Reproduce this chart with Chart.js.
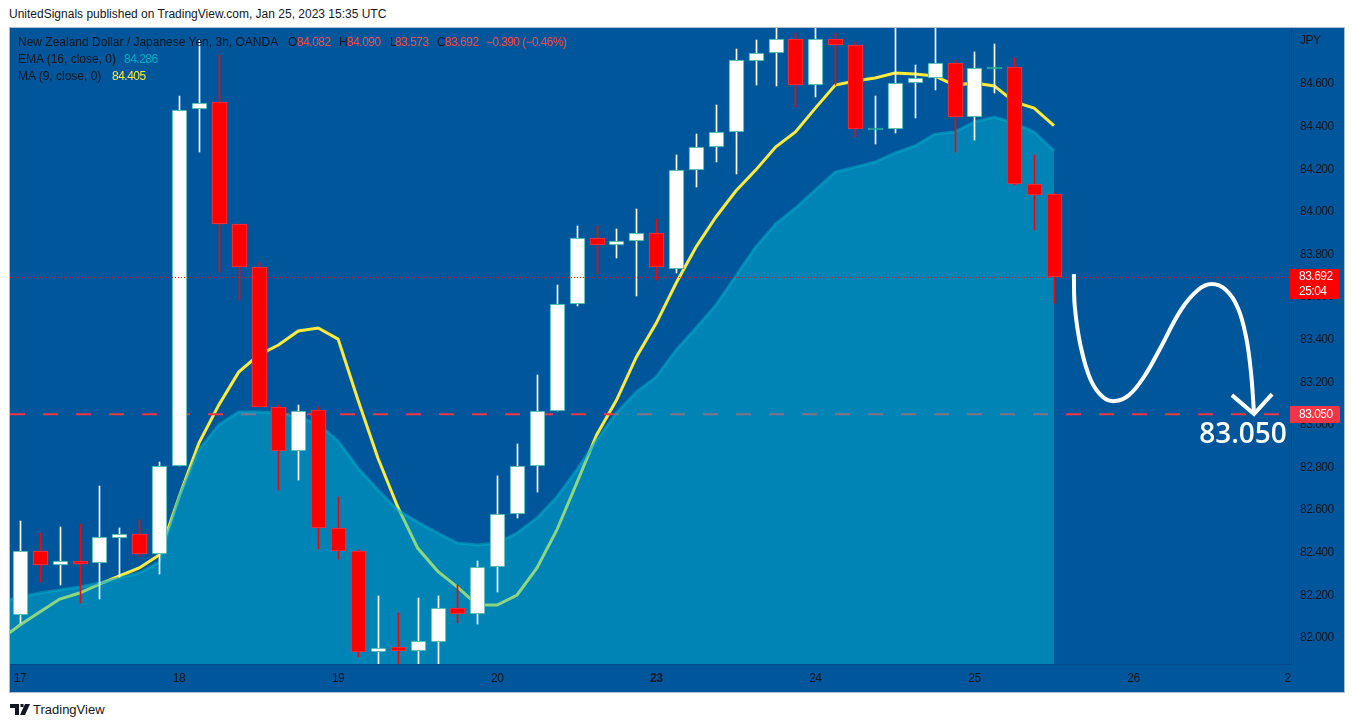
<!DOCTYPE html>
<html>
<head>
<meta charset="utf-8">
<title>NZDJPY 3h</title>
<script src="https://cdn.jsdelivr.net/npm/chart.js@4/dist/chart.umd.min.js"></script>
<style>
  html, body { margin: 0; padding: 0; background: #fff; width: 1354px; height: 727px; overflow: hidden; }
  body { font-family: "Liberation Sans", sans-serif; font-size: 12px; color: #131722; position: relative; }
  #head { position: absolute; left: 9px; top: 7px; white-space: nowrap; }
  #panel { position: absolute; left: 9px; top: 27px; width: 1334px; height: 664px; border: 1px solid #a9bfd6; background: #00569b; }
  #panel canvas { display: block; }
  .leg { position: absolute; white-space: nowrap; }
  .num { letter-spacing: -0.5px; }
  .red { color: #ff4a4a; }
  #foot { position: absolute; left: 10px; top: 701px; height: 16px; }
  #foot svg { position: absolute; left: 0; top: 3px; }
  #foot span { position: absolute; left: 23px; top: 1px; font-size: 13px; white-space: nowrap; }
</style>
</head>
<body>
<div id="head">UnitedSignals published on TradingView.com, Jan 25, 2023 15:35 UTC</div>
<div id="panel"><canvas id="chart" width="1334" height="664"></canvas></div>
<div class="leg" style="top:35px;left:18px">New Zealand Dollar / Japanese Yen, 3h, OANDA</div>
<div class="leg" style="top:35px;left:288px">O</div><div class="leg num red" style="top:35px;left:297px">84.082</div>
<div class="leg" style="top:35px;left:339px">H</div><div class="leg num red" style="top:35px;left:347px">84.090</div>
<div class="leg" style="top:35px;left:390px">L</div><div class="leg num red" style="top:35px;left:395px">83.573</div>
<div class="leg" style="top:35px;left:437px">C</div><div class="leg num red" style="top:35px;left:445px">83.692</div>
<div class="leg num red" style="top:35px;left:486px;letter-spacing:-0.6px">&minus;0.390 (&minus;0.46%)</div>
<div class="leg" style="top:52px;left:18px">EMA (16, close, 0)</div><div class="leg num" style="top:52px;left:124px;color:#00acc1">84.286</div>
<div class="leg" style="top:69px;left:18px">MA (9, close, 0)</div><div class="leg num" style="top:69px;left:112px;color:#ffeb3b">84.405</div>
<div id="foot">
  <svg width="20" height="11" viewBox="0 0 20 11"><path fill="#131722" d="M0 0h9v11H5V4H0zM10.5 0h3v3h-3zM15 0h5l-5 11h-5z"/></svg>
  <span>TradingView</span>
</div>
<script>
// 3h candles, one per index
const opens = [82.108,82.408,82.343,82.361,82.352,82.469,82.488,82.394,82.807,84.483,84.516,83.943,83.741,83.084,82.878,83.070,82.516,82.408,81.934,81.958,81.939,81.981,82.141,82.113,82.333,82.582,82.807,83.065,83.568,83.877,83.844,83.863,83.901,83.732,84.196,84.304,84.375,84.708,84.745,84.811,84.595,84.811,84.783,84.385,84.389,84.605,84.628,84.699,84.445,84.671,84.680,84.131,84.082];
const closes = [82.408,82.343,82.361,82.347,82.474,82.488,82.394,82.807,84.478,84.511,83.943,83.741,83.084,82.878,83.065,82.516,82.408,81.934,81.953,81.939,81.986,82.141,82.113,82.333,82.582,82.807,83.065,83.568,83.877,83.844,83.863,83.901,83.741,84.196,84.304,84.375,84.713,84.745,84.811,84.595,84.811,84.783,84.389,84.394,84.605,84.628,84.699,84.445,84.675,84.680,84.131,84.079,83.692];
const highs = [82.549,82.493,82.521,82.535,82.713,82.516,82.554,82.826,84.544,84.806,84.736,83.943,83.765,83.094,83.094,83.084,82.662,82.413,82.197,82.117,82.188,82.197,82.249,82.361,82.760,82.911,83.234,83.657,83.934,83.934,83.920,84.013,83.966,84.267,84.365,84.501,84.764,84.806,84.900,84.839,84.900,84.839,84.797,84.544,84.950,84.689,84.950,84.713,84.750,84.788,84.722,84.267,84.090];
const lows = [82.070,82.263,82.249,82.164,82.183,82.286,82.380,82.300,82.807,84.281,83.718,83.586,83.084,82.695,82.742,82.418,82.371,81.911,81.855,81.859,81.859,81.864,82.070,82.066,82.216,82.563,82.685,83.065,83.558,83.708,83.783,83.605,83.680,83.713,84.117,84.234,84.178,84.595,84.591,84.492,84.539,84.595,84.351,84.318,84.370,84.440,84.572,84.281,84.337,84.558,84.126,83.915,83.573];

// indicators start one bar before the first visible candle
const maValues = [81.991,82.061,82.122,82.183,82.211,82.253,82.291,82.329,82.390,82.662,82.915,83.094,83.248,83.328,83.375,83.441,83.455,83.403,83.117,82.845,82.615,82.422,82.314,82.239,82.155,82.155,82.202,82.329,82.507,82.727,82.953,83.117,83.319,83.478,83.666,83.835,83.976,84.098,84.196,84.304,84.375,84.487,84.595,84.614,84.628,84.652,84.647,84.638,84.595,84.605,84.591,84.516,84.487,84.405];
const emaValues = [82.169,82.192,82.211,82.225,82.239,82.258,82.282,82.305,82.357,82.662,82.882,83.000,83.061,83.061,83.056,83.037,83.004,82.925,82.798,82.695,82.601,82.544,82.493,82.446,82.437,82.446,82.493,82.563,82.662,82.789,82.929,83.056,83.155,83.225,83.352,83.455,83.563,83.699,83.835,83.943,84.018,84.103,84.187,84.210,84.234,84.276,84.309,84.365,84.375,84.422,84.445,84.417,84.375,84.286];

// hand drawn forecast arrow
const arrowX = [53.0,53.05,53.35,53.85,54.46,55.06,55.77,56.52,57.38,58.38,59.24,59.94,60.65,61.25,61.66,61.91,62.06];
const arrowY = [83.708,83.553,83.366,83.211,83.131,83.112,83.140,83.225,83.366,83.539,83.633,83.661,83.633,83.549,83.413,83.244,83.056];
const headX = [60.95,62.06,62.97];
const headY = [83.140,83.051,83.145];

const targetPrice = 83.050;
const lastPrice = 83.692;
const countdown = "25:04";

const yTicks = [82.0,82.2,82.4,82.6,82.8,83.0,83.2,83.4,83.6,83.8,84.0,84.2,84.4,84.6];
const dayPositions = [0,8,16,24,32,40,48,56,63.75];
const dayLabels = ["17","18","19","20","23","24","25","26","2"];

const xMin = -0.5, xMax = 63.92, yMin = 81.878, yMax = 84.863;

const isDoji = i => Math.abs(closes[i] - opens[i]) < 0.012;
const bodyFill = opens.map((o, i) => isDoji(i) ? "#26a69a" : closes[i] >= o ? "#ffffff" : "#ff0000");
const bodyEdge = opens.map((o, i) => isDoji(i) ? "#26a69a" : closes[i] >= o ? "#26a69a" : "#f23645");
const wickCol = opens.map((o, i) => closes[i] >= o ? "#ffffff" : "#ff0000");

// snap candles to whole pixels, like the original
const snapCandles = {
  id: "snapCandles",
  beforeDraw(chart) { chart.ctx.letterSpacing = "-0.5px"; },
  beforeDatasetsDraw(chart) {
    chart.getSortedVisibleDatasetMetas().forEach(meta => {
      if (meta.type !== "bar") return;
      meta.data.forEach(el => {
        el.x = Math.round(el.x) + 0.5;
        el.y = Math.round(el.y);
        el.base = Math.round(el.base);
      });
    });
  }
};

function badge(ctx, y, h, fill, lines) {
  ctx.fillStyle = fill;
  ctx.beginPath();
  ctx.roundRect(1280, y, 50, h, [0, 2, 2, 0]);
  ctx.fill();
  ctx.fillStyle = "#fff";
  ctx.font = '12px "Liberation Sans"';
  ctx.textAlign = "left";
  ctx.textBaseline = "middle";
  lines.forEach((t, i) => ctx.fillText(t, 1289, y + h / (lines.length * 2) * (2 * i + 1) + 0.5));
}

const overlays = {
  id: "overlays",
  afterDraw(chart) {
    const ctx = chart.ctx, x = chart.scales.x, y = chart.scales.y;
    ctx.save();
    ctx.fillStyle = "#131722";
    ctx.font = '12px "Liberation Sans"';
    ctx.textAlign = "left";
    ctx.textBaseline = "middle";
    ctx.fillText("JPY", 1290, 13);
    badge(ctx, Math.round(y.getPixelForValue(lastPrice)) - 8, 30, "#ff0000", [lastPrice.toFixed(3), countdown]);
    badge(ctx, Math.round(y.getPixelForValue(targetPrice)) - 8, 17, "#f23645", [targetPrice.toFixed(3)]);
    ctx.letterSpacing = "0px";
    ctx.fillStyle = "#fff";
    ctx.font = '600 28px "Open Sans"';
    ctx.textBaseline = "alphabetic";
    ctx.fillText(targetPrice.toFixed(3), x.getPixelForValue(59.3), y.getPixelForValue(83.05) + 29);
    ctx.restore();
  }
};

// tick labels must not push the plot area inwards
function noPadding(s) {
  s.paddingLeft = s.paddingRight = s.paddingTop = s.paddingBottom = 0;
}

const pts = (xs, ys) => ys.map((v, i) => ({ x: xs[i], y: v }));
const barIndex = opens.map((_, i) => i);
const lineIndex = maValues.map((_, i) => i - 1);

new Chart(document.getElementById("chart"), {
  type: "bar",
  data: {
    datasets: [
      { type: "line", order: 0, data: pts(arrowX, arrowY), borderColor: "#fff", borderWidth: 4, tension: 0.4, pointRadius: 0 },
      { type: "line", order: 0, data: pts(headX, headY), borderColor: "#fff", borderWidth: 4, pointRadius: 0 },
      { type: "line", order: 0.5, data: pts([xMin, xMax], [lastPrice, lastPrice]), borderColor: "#ff0000", borderWidth: 1,
        borderDash: [1, 2], pointRadius: 0 },
      { type: "bar", order: 1, grouped: false, barThickness: 15, borderWidth: 1, borderSkipped: false,
        data: barIndex.map(i => ({ x: i, y: [opens[i], closes[i]] })),
        backgroundColor: bodyFill, borderColor: bodyEdge },
      { type: "bar", order: 2, grouped: false, barThickness: 1, borderWidth: 0,
        data: barIndex.map(i => ({ x: i, y: [lows[i], highs[i]] })),
        backgroundColor: wickCol },
      { type: "line", order: 3, data: pts(lineIndex, emaValues), borderColor: "rgba(0,172,200,0.55)", borderWidth: 3,
        backgroundColor: "rgba(0,188,212,0.45)", fill: "start", pointRadius: 0, tension: 0 },
      { type: "line", order: 4, data: pts([xMin, xMax], [targetPrice, targetPrice]), borderColor: "#f23645", borderWidth: 2,
        borderDash: [15, 18], pointRadius: 0 },
      { type: "line", order: 5, data: pts(lineIndex, maValues), borderColor: "#ffeb3b", borderWidth: 3, pointRadius: 0, tension: 0 }
    ]
  },
  options: {
    responsive: false,
    animation: false,
    devicePixelRatio: 1,
    layout: { padding: 0, autoPadding: false },
    plugins: { legend: { display: false }, tooltip: { enabled: false } },
    scales: {
      x: {
        type: "linear", min: xMin, max: xMax, offset: false,
        grid: { display: false, drawTicks: false },
        border: { display: true, color: "rgba(0,0,0,0.12)" },
        afterFit(s) { s.height = 28; noPadding(s); },
        afterBuildTicks(s) { s.ticks = dayPositions.map(v => ({ value: v })); },
        ticks: {
          autoSkip: false, maxRotation: 0, padding: 7, color: "#131722",
          font: c => ({ family: "Liberation Sans", size: 12, weight: c.index === 4 ? "bold" : "normal" }),
          callback: (v, i) => dayLabels[i]
        }
      },
      y: {
        position: "right", min: yMin, max: yMax,
        grid: { display: false, drawTicks: false },
        border: { display: true, color: "rgba(0,0,0,0.12)" },
        afterFit(s) { s.width = 53; noPadding(s); },
        afterBuildTicks(s) { s.ticks = yTicks.map(v => ({ value: v })); },
        ticks: {
          padding: 9, color: "#131722", font: { family: "Liberation Sans", size: 12 },
          callback: v => v.toFixed(3)
        }
      }
    }
  },
  plugins: [snapCandles, overlays]
});
</script>
</body>
</html>
